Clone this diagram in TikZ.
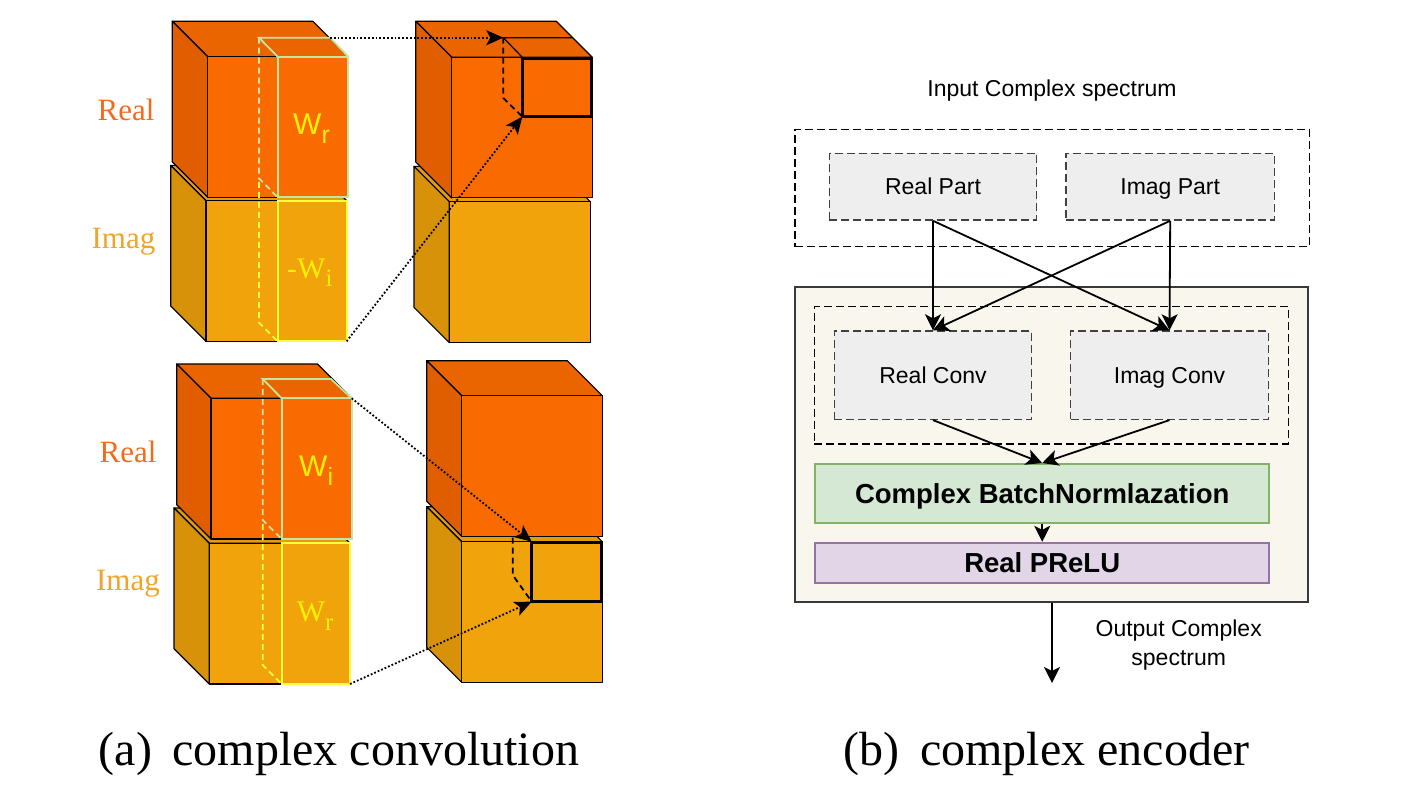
\documentclass[tikz,border=0pt]{standalone}
\usepackage{fontspec}
\setmainfont{Liberation Serif}
\setsansfont{Liberation Sans}
\usetikzlibrary{arrows.meta}

\definecolor{realfront}{HTML}{F96A00}
\definecolor{realtop}{HTML}{EA6500}
\definecolor{realside}{HTML}{E05E00}
\definecolor{imagfront}{HTML}{F0A30A}
\definecolor{imagtop}{HTML}{E39C0C}
\definecolor{imagside}{HTML}{D8920A}
\definecolor{kerngreen}{HTML}{C5E59E}
\definecolor{kernyellow}{HTML}{FFFF40}
\definecolor{wlabel}{HTML}{FFF200}
\definecolor{reallab}{HTML}{F26B1D}
\definecolor{imaglab}{HTML}{F0A428}
\definecolor{partfill}{HTML}{EEEEEE}
\definecolor{encfill}{HTML}{F9F7ED}
\definecolor{encdraw}{HTML}{36393D}
\definecolor{bnfill}{HTML}{D5E8D4}
\definecolor{bndraw}{HTML}{82B366}
\definecolor{relufill}{HTML}{E1D5E7}
\definecolor{reludraw}{HTML}{9673A6}

% front top-left x, y, size, depth, front, top, side
\newcommand{\drawcube}[7]{%
  \filldraw[fill=#6, cubeedge] (#1,#2) -- ++(#3,0) -- ++(-#4,-#4) -- ++(-#3,0) -- cycle;
  \filldraw[fill=#7, cubeedge] (#1,#2) -- ++(-#4,-#4) -- ++(0,#3) -- ++(#4,#4) -- cycle;
  \filldraw[fill=#5, cubeedge] (#1,#2) rectangle ++(#3,#3);
}
\newcommand{\wsub}[2]{#1\raisebox{-8.5pt}{\fontsize{25}{25}\selectfont #2}}

\begin{document}
\begin{tikzpicture}[x=1pt, y=-1pt,
	cubeedge/.style={draw=black, line width=1.2pt, line join=round},
	kernG/.style={draw=kerngreen, line width=1.8pt},
	kernY/.style={draw=kernyellow, line width=1.8pt},
	hiddenline/.style={dash pattern=on 6pt off 4pt},
	outkern/.style={draw=black, line width=2.6pt},
	dotarrow/.style={-{Stealth[length=17pt,width=15pt,inset=4pt]}, line width=1.8pt, dash pattern=on 1.8pt off 2pt},
	flow/.style={-{Stealth[length=16pt,width=16pt,inset=4pt]}, line width=1.8pt},
	sidelabel/.style={font=\rmfamily\fontsize{31}{31}\selectfont},
	wsans/.style={anchor=base west, inner sep=0pt, text=wlabel, font=\sffamily\fontsize{30}{30}\selectfont},
	wserif/.style={anchor=base west, inner sep=0pt, text=wlabel, font=\rmfamily\fontsize{30}{30}\selectfont},
	partbox/.style={rectangle, draw=black!75, fill=partfill, line width=1.5pt, dash pattern=on 8pt off 4pt, inner sep=0pt, text height=16.6pt, text depth=0pt, font=\sffamily\fontsize{23}{27}\selectfont},
	dashframe/.style={rectangle, draw=black, line width=1.5pt, dash pattern=on 8pt off 4pt, inner sep=0pt},
	boldbox/.style={rectangle, line width=1.8pt, inner sep=0pt, text height=19.7pt, text depth=0pt, font=\sffamily\bfseries\fontsize{27.5}{30}\selectfont},
	plain/.style={inner sep=0pt, font=\sffamily\fontsize{23}{27}\selectfont},
	caption/.style={anchor=base, inner sep=0pt, font=\rmfamily\fontsize{48}{50}\selectfont}]
	\useasboundingbox (0,0) rectangle (1407,802);
	%Upper cubes
	\drawcube{206}{200.7}{140.6}{35.3}{imagfront}{imagtop}{imagside}
	\drawcube{207.7}{56.7}{140.6}{35.4}{realfront}{realtop}{realside}
	\drawcube{449.3}{201.7}{141}{35.3}{imagfront}{imagtop}{imagside}
	\drawcube{451.7}{57.3}{140.6}{36}{realfront}{realtop}{realside}
	%Upper kernels
	\draw[kernG] (277.7,56.7) rectangle (348.3,197.3);
	\draw[kernG] (277.7,56.7) -- (259,37.7) -- (330,37.7) -- (348.3,56.7);
	\draw[kernG, hiddenline] (259,37.7) -- (259,178.3) -- (277.7,197.3);
	\draw[kernY] (277.7,200.7) rectangle (346.6,341.3);
	\draw[kernY, hiddenline] (259,182) -- (259,322.7) -- (277.7,341.3);
	\node[wsans] (wra) at (293,135) {\wsub{W}{r}};
	\node[wserif] (wia) at (287,278) {\wsub{-W}{i}};
	%Upper output
	\draw[outkern] (522.3,58.6) rectangle (590.8,116.7);
	\draw[line width=1.2pt] (522.3,57.3) -- (503.3,37.7) -- (572.7,37.7);
	\draw[line width=1.8pt, hiddenline] (503.3,37.7) -- (503.3,98) -- (522.3,116.7);
	\coordinate (ka) at (330,37.7);
	\coordinate (oa) at (503.3,37.7);
	\coordinate (kb) at (346.6,341.3);
	\coordinate (ob) at (522.3,116.7);
	\draw[dotarrow] (ka) -- (oa);
	\draw[dotarrow] (kb) -- (ob);
	%Lower cubes
	\drawcube{209.3}{543.3}{140.7}{35.3}{imagfront}{imagtop}{imagside}
	\drawcube{211}{398.3}{140.7}{34.3}{realfront}{realtop}{realside}
	\drawcube{461.7}{541.7}{140.6}{35}{imagfront}{imagtop}{imagside}
	\drawcube{461.7}{395.7}{140.6}{35}{realfront}{realtop}{realside}
	%Lower kernels
	\draw[kernG] (281.7,398.3) rectangle (351.7,539);
	\draw[kernG] (281.7,398.3) -- (262.7,379) -- (331,379) -- (351.7,398.3);
	\draw[kernG, hiddenline] (262.7,379) -- (262.7,520) -- (281.7,539);
	\draw[kernY] (281.7,543.3) rectangle (350,684);
	\draw[kernY, hiddenline] (262.7,524) -- (262.7,665) -- (281.7,684);
	\node[wsans] (wib) at (299,476.7) {\wsub{W}{i}};
	\node[wserif] (wrb) at (296.7,621.7) {\wsub{W}{r}};
	%Lower output
	\draw[outkern] (531.7,542.9) rectangle (601.1,601.7);
	\draw[line width=1.8pt, hiddenline] (512.7,537.7) -- (512.7,575) -- (531.7,601.7);
	\coordinate (kc) at (351.7,398.3);
	\coordinate (oc) at (531.7,541.7);
	\coordinate (kd) at (350,684);
	\coordinate (od) at (531.7,601.7);
	\draw[dotarrow] (kc) -- (oc);
	\draw[dotarrow] (kd) -- (od);
	%Side labels
	\node[sidelabel, text=reallab] (reala) at (126,110) {Real};
	\node[sidelabel, text=imaglab] (imaga) at (123.5,242) {Imag};
	\node[sidelabel, text=reallab] (realb) at (128,452) {Real};
	\node[sidelabel, text=imaglab] (imagb) at (128,584) {Imag};
	%Input
	\node[plain] (inlabel) at (1052,91) {Input Complex spectrum};
	\node[dashframe, minimum width=514.3pt, minimum height=117.4pt] (inframe) at (1052.2,188) {};
	\node[partbox, minimum width=207.4pt, minimum height=66.7pt] (realpart) at (933,186.7) {Real Part};
	\node[partbox, minimum width=208.3pt, minimum height=66.7pt] (imagpart) at (1170.2,186.7) {Imag Part};
	%Encoder
	\node[rectangle, draw=encdraw, fill=encfill, line width=2pt, minimum width=513.8pt, minimum height=315.2pt] (encoder) at (1051.4,444.1) {};
	\node[dashframe, minimum width=474pt, minimum height=137.7pt] (convframe) at (1051.3,375.2) {};
	\node[partbox, minimum width=197.4pt, minimum height=88.3pt] (realconv) at (933,375.2) {Real Conv};
	\node[partbox, minimum width=197.6pt, minimum height=88.3pt] (imagconv) at (1169.5,375.2) {Imag Conv};
	\node[boldbox, draw=bndraw, fill=bnfill, minimum width=454.3pt, minimum height=58.7pt] (batchnorm) at (1042.2,493.3) {Complex BatchNormlazation};
	\node[boldbox, draw=reludraw, fill=relufill, minimum width=454.3pt, minimum height=40pt] (prelu) at (1042.2,562.7) {Real PReLU};
	\draw[flow] (realpart.south) -- (realconv.north);
	\draw[flow] (realpart.south) -- (imagconv.north);
	\draw[flow] (imagpart.south) -- (imagconv.north);
	\draw[flow] (imagpart.south) -- (realconv.north);
	\draw[flow] (realconv.south) -- (batchnorm.north);
	\draw[flow] (imagconv.south) -- (batchnorm.north);
	\draw[flow] (batchnorm.south) -- (prelu.north);
	%Output
	\coordinate (outend) at (1052,683);
	\draw[flow] (encoder.south -| outend) -- (outend);
	\node[plain, align=center] (outlabel) at (1178.7,645) {Output Complex\\[2pt]spectrum};
	%Captions
	\node[caption] (capa) at (339,765) {(a)\hspace{0.43em}complex convolution};
	\node[caption] (capb) at (1046.5,765) {(b)\hspace{0.43em}complex encoder};
\end{tikzpicture}
\end{document}
